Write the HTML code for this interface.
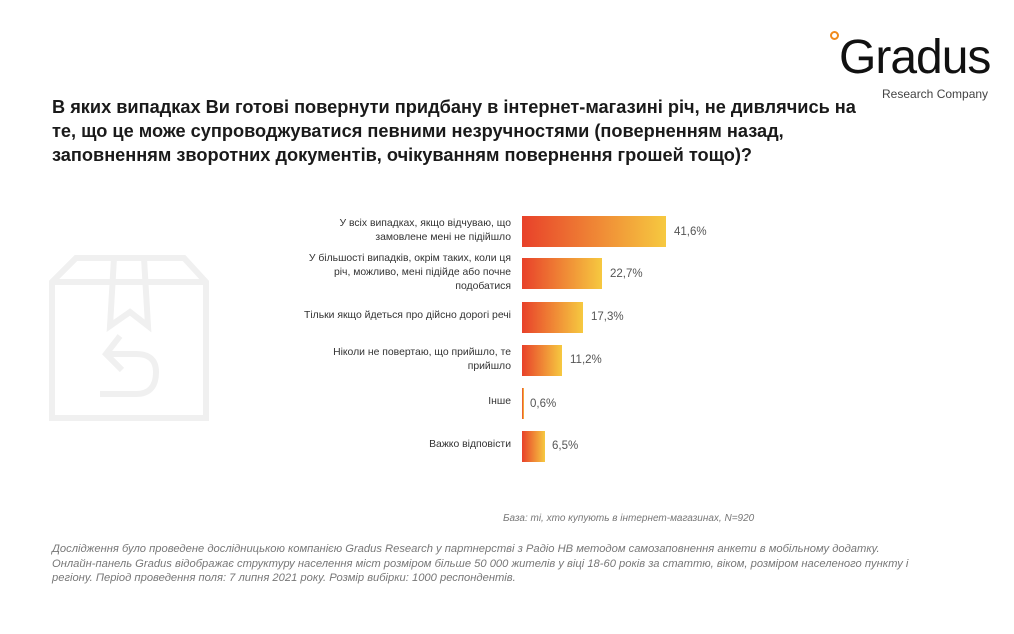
<!DOCTYPE html>
<html><head><meta charset="utf-8"><style>
body{margin:0;width:1014px;height:634px;background:#fff;position:relative;overflow:hidden;font-family:"Liberation Sans",sans-serif}
.t{position:absolute;left:52px;top:95px;font-size:18.2px;font-weight:bold;color:#1a1a1a;line-height:24px;width:900px;white-space:nowrap}
.lbl{position:absolute;right:503px;text-align:right;font-size:10.4px;color:#333;line-height:14px;width:300px}
.bar{position:absolute;left:522px;height:31px;background:linear-gradient(90deg,#e8412a,#f6c940)}
.v{position:absolute;font-size:11.5px;color:#555}
.f{position:absolute;font-style:italic;color:#777;font-size:11.2px;line-height:14.5px}
</style></head><body>
<svg style="position:absolute;left:40px;top:230px" width="180" height="200" viewBox="0 0 180 200" fill="none" stroke="#f0f0f0" stroke-width="6">
<path d="M12 52 L36 28 L144 28 L166 52 L166 188 L12 188 Z M12 52 L166 52 M74 28 L70 96 L90 82 L108 96 L104 28"/>
<path d="M80 106 L66 124 L82 140 M66 124 L96 124 Q116 124 116 142 Q116 164 96 164 L60 164"/>
</svg>
<div style="position:absolute;left:830px;top:31px;width:9px;height:9px;border-radius:50%;border:2px solid #f08a1c;box-sizing:border-box"></div>
<div style="position:absolute;left:839px;top:29px;font-size:48px;color:#111;letter-spacing:-1px;line-height:58px">Gradus</div>
<div style="position:absolute;left:882px;top:87px;font-size:12px;color:#444">Research Company</div>
<div class="t">В яких випадках Ви готові повернути придбану в інтернет-магазині річ, не дивлячись на<br>те, що це може супроводжуватися певними незручностями (поверненням назад,<br>заповненням зворотних документів, очікуванням повернення грошей тощо)?</div>
<div class="lbl" style="top:217px">У всіх випадках, якщо відчуваю, що<br>замовлене мені не підійшло</div>
<div class="bar" style="top:216px;width:144px"></div><div class="v" style="left:674px;top:226px">41,6%</div>
<div class="lbl" style="top:252px">У більшості випадків, окрім таких, коли ця<br>річ, можливо, мені підійде або почне<br>подобатися</div>
<div class="bar" style="top:258px;width:80px"></div><div class="v" style="left:610px;top:268px">22,7%</div>
<div class="lbl" style="top:309px">Тільки якщо йдеться про дійсно дорогі речі</div>
<div class="bar" style="top:302px;width:61px"></div><div class="v" style="left:591px;top:311px">17,3%</div>
<div class="lbl" style="top:346px">Ніколи не повертаю, що прийшло, те<br>прийшло</div>
<div class="bar" style="top:345px;width:40px"></div><div class="v" style="left:570px;top:354px">11,2%</div>
<div class="lbl" style="top:395px">Інше</div>
<div class="bar" style="top:388px;width:2px"></div><div class="v" style="left:530px;top:398px">0,6%</div>
<div class="lbl" style="top:438px">Важко відповісти</div>
<div class="bar" style="top:431px;width:23px"></div><div class="v" style="left:552px;top:440px">6,5%</div>
<div class="f" style="left:503px;top:512px;font-size:10px">База: ті, хто купують в інтернет-магазинах, N=920</div>
<div class="f" style="left:52px;top:542px;width:920px">Дослідження було проведене дослідницькою компанією Gradus Research у партнерстві з Радіо НВ методом самозаповнення анкети в мобільному додатку.<br>Онлайн-панель Gradus відображає структуру населення міст розміром більше 50 000 жителів у віці 18-60 років за статтю, віком, розміром населеного пункту і<br>регіону. Період проведення поля: 7 липня 2021 року. Розмір вибірки: 1000 респондентів.</div>
</body></html>
